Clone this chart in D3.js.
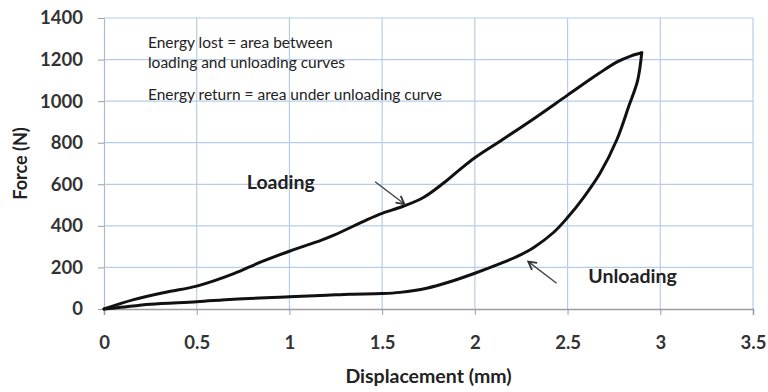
<!DOCTYPE html>
<html>
<head>
<meta charset="utf-8">
<script src="https://cdn.jsdelivr.net/npm/d3@7"></script>
<style>
  html, body { margin: 0; padding: 0; background: #fff; }
  svg { display: block; font-family: Lato, "Open Sans", sans-serif; }
</style>
</head>
<body>
<svg id="chart" width="768" height="392"></svg>
<script>
// Hysteresis loop: force vs displacement for loading and unloading
const loadingDisp  = [0, 0.16, 0.34, 0.5, 0.7, 0.84, 1.0, 1.17, 1.24, 1.42, 1.5, 1.61, 1.72, 1.83, 1.92, 2.0, 2.14, 2.32, 2.5, 2.67, 2.77, 2.84, 2.9];
const loadingForce = [0, 45, 82, 110, 170, 224, 278, 330, 355, 430, 460, 493, 535, 605, 672, 728, 810, 917, 1029, 1134, 1190, 1217, 1233];

const unloadingDisp  = [2.9, 2.878, 2.83, 2.765, 2.675, 2.585, 2.5, 2.424, 2.316, 2.226, 2.136, 2.0, 1.866, 1.74, 1.597, 1.5, 1.327, 1.2, 1.0, 0.7, 0.5, 0.25, 0.09, 0];
const unloadingForce = [1233, 1100, 975, 813, 653, 535, 440, 368, 295, 252, 218, 172, 131, 100, 80, 74, 71, 66, 59, 47, 35, 23, 8, 0];

const xTicks = [0, 0.5, 1, 1.5, 2, 2.5, 3, 3.5];
const yTicks = [0, 200, 400, 600, 800, 1000, 1200, 1400];

const noteLines = [
  "Energy lost = area between",
  "loading and unloading curves",
  "Energy return = area under unloading curve"
];
const noteForce = [1255, 1159, 1005];   // baselines, in newtons
const noteDisp = 0.237;

// curve labels and their pointer arrows, in data units
const curveLabels = [
  { text: "Loading",   x: 0.77,  y: 577, from: [1.462, 612], to: [1.62, 505] },
  { text: "Unloading", x: 2.612, y: 125, from: [2.441, 124], to: [2.288, 228] }
];

const svg = d3.select("#chart");
const x = d3.scaleLinear().domain([0, 3.5]).range([104, 753]);
const y = d3.scaleLinear().domain([0, 1400]).range([309, 18]);

const gridColor = "#b7cde6";
const axisColor = "#9d9d9d";
const labelColor = "#333";

// grid
const grid = svg.append("g");
grid.selectAll("line.v").data(xTicks.slice(1)).join("line")
  .attr("x1", d => x(d)).attr("x2", d => x(d))
  .attr("y1", y(1400)).attr("y2", y(0))
  .attr("stroke", gridColor).attr("stroke-width", 1.2);
grid.selectAll("line.h").data(yTicks.slice(1)).join("line")
  .attr("x1", x(0)).attr("x2", x(3.5))
  .attr("y1", d => y(d)).attr("y2", d => y(d))
  .attr("stroke", gridColor).attr("stroke-width", 1.2);

// y axis
const yAxis = d3.axisLeft(y).tickValues(yTicks).tickSize(6).tickPadding(15).tickFormat(d3.format("d"));
const gy = svg.append("g").attr("transform", `translate(${x(0)},0)`).call(yAxis);
gy.select(".domain").attr("stroke", "#a9bccf").attr("stroke-width", 1.2);
gy.selectAll(".tick line").attr("stroke", axisColor);
gy.selectAll(".tick text")
  .attr("fill", labelColor).attr("font-size", 18.5).attr("font-weight", 700)
  .attr("font-family", "Lato, sans-serif");

// x axis
const xAxis = d3.axisBottom(x).tickValues(xTicks).tickSize(6).tickPadding(21).tickFormat(d => String(d));
const gx = svg.append("g").attr("transform", `translate(0,${y(0)})`).call(xAxis);
gx.select(".domain").attr("stroke", axisColor).attr("stroke-width", 1.6);
gx.selectAll(".tick line").attr("stroke", axisColor);
gx.selectAll(".tick text")
  .attr("fill", labelColor).attr("font-size", 18.5).attr("font-weight", 700)
  .attr("font-family", "Lato, sans-serif");

// axis titles
svg.append("text")
  .attr("x", (x(0) + x(3.5)) / 2).attr("y", 383)
  .attr("text-anchor", "middle")
  .attr("font-size", 19.5).attr("font-weight", 700).attr("fill", "#222")
  .text("Displacement (mm)");
svg.append("text")
  .attr("transform", `translate(27,${(y(0) + y(1400)) / 2}) rotate(-90)`)
  .attr("text-anchor", "middle")
  .attr("font-size", 18).attr("font-weight", 700).attr("fill", "#222")
  .text("Force (N)");

// curves
const line = d3.line()
  .x(d => x(d[0])).y(d => y(d[1]))
  .curve(d3.curveCatmullRom.alpha(0.5));
const loading = loadingDisp.map((d, i) => [d, loadingForce[i]]);
const unloading = unloadingDisp.map((d, i) => [d, unloadingForce[i]]);
[loading, unloading].forEach(pts => {
  svg.append("path").attr("d", line(pts))
    .attr("fill", "none").attr("stroke", "#111")
    .attr("stroke-width", 3).attr("stroke-linejoin", "miter")
    .attr("stroke-linecap", "round");
});

// explanatory notes
svg.append("g").selectAll("text").data(noteLines).join("text")
  .attr("x", x(noteDisp)).attr("y", (d, i) => y(noteForce[i]))
  .attr("font-size", 15.5).attr("fill", "#222")
  .text(d => d);

// curve labels with open-headed pointer arrows
const ann = svg.append("g");
curveLabels.forEach(a => {
  ann.append("text")
    .attr("x", x(a.x)).attr("y", y(a.y))
    .attr("font-size", 19.5).attr("font-weight", 700).attr("fill", "#222")
    .text(a.text);
  const x1 = x(a.from[0]), y1 = y(a.from[1]), x2 = x(a.to[0]), y2 = y(a.to[1]);
  ann.append("line").attr("x1", x1).attr("y1", y1).attr("x2", x2).attr("y2", y2)
    .attr("stroke", "#444").attr("stroke-width", 1.4);
  const ang = Math.atan2(y2 - y1, x2 - x1);
  const head = 9, spread = 0.5;
  const barbs = [ang + Math.PI - spread, ang + Math.PI + spread];
  ann.append("path")
    .attr("d", `M${x2 + head * Math.cos(barbs[0])},${y2 + head * Math.sin(barbs[0])}L${x2},${y2}L${x2 + head * Math.cos(barbs[1])},${y2 + head * Math.sin(barbs[1])}`)
    .attr("fill", "none").attr("stroke", "#333").attr("stroke-width", 1.8);
});
</script>
</body>
</html>
